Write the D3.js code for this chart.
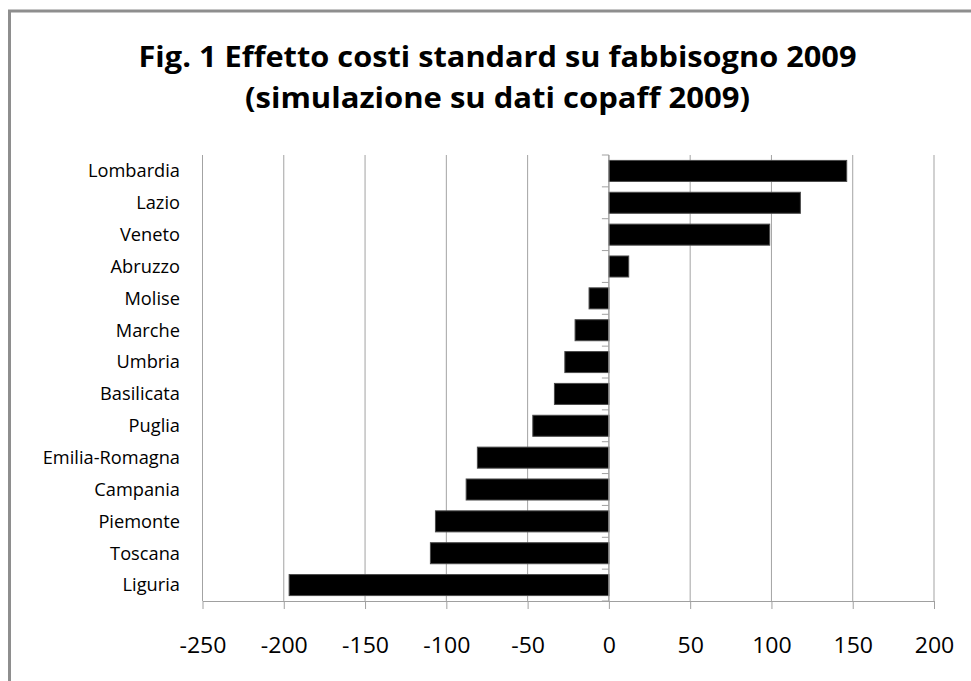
<!DOCTYPE html>
<html>
<head>
<meta charset="utf-8">
<script src="https://cdn.jsdelivr.net/npm/d3@7"></script>
<style>
  html, body { margin: 0; padding: 0; background: #fff; }
  svg { display: block; }
</style>
</head>
<body>
<script>
// ---- data ----
const categories = ["Lombardia","Lazio","Veneto","Abruzzo","Molise","Marche","Umbria","Basilicata","Puglia","Emilia-Romagna","Campania","Piemonte","Toscana","Liguria"];
const values = [146.3, 117.8, 98.9, 12.2, -12.2, -20.8, -27.1, -33.5, -46.8, -80.9, -87.8, -106.7, -109.8, -196.7];
const xTicks = [-250, -200, -150, -100, -50, 0, 50, 100, 150, 200];
const titleLines = ["Fig. 1 Effetto costi standard su fabbisogno 2009", "(simulazione su dati copaff 2009)"];

const W = 971, H = 681;
const FONT = "'Open Sans', 'Noto Sans', sans-serif";

const svg = d3.select("body").append("svg").attr("width", W).attr("height", H);
svg.append("rect").attr("width", W).attr("height", H).attr("fill", "#fff");

// outer frame (only top/left edges fall inside the picture)
svg.append("rect")
  .attr("x", 9.5).attr("y", 11).attr("width", 1100).attr("height", 900)
  .attr("fill", "none").attr("stroke", "#8e8e8e").attr("stroke-width", 3);

const x = d3.scaleLinear().domain([-250, 200]).range([202.5, 934]);
const y = d3.scaleBand().domain(categories).range([155, 601]).paddingInner(0.34).paddingOuter(0.17);

// scale all texts of a selection horizontally so that a reference text has a target width
function condense(sel, refNode, target) {
  const f = target / refNode.getComputedTextLength();
  const widths = sel.nodes().map(n => n.getComputedTextLength());
  sel.each(function (d, i) {
    d3.select(this).attr("textLength", widths[i] * f).attr("lengthAdjust", "spacingAndGlyphs");
  });
}

// title
const tl = svg.selectAll("text.title").data(titleLines).join("text")
  .attr("class", "title")
  .attr("x", 497.5)
  .attr("y", (d, i) => i === 0 ? 67 : 108)
  .attr("text-anchor", "middle")
  .style("font-family", FONT).style("font-weight", "bold").style("font-size", "28px")
  .attr("fill", "#000")
  .text(d => d);
condense(d3.select(tl.nodes()[0]), tl.nodes()[0], 718);
condense(d3.select(tl.nodes()[1]), tl.nodes()[1], 505);

// gridlines
svg.append("g").selectAll("line").data(xTicks).join("line")
  .attr("x1", d => x(d)).attr("x2", d => x(d))
  .attr("y1", 155).attr("y2", 601)
  .attr("stroke", "#a3a3a3").attr("stroke-width", 1);

// x axis
const xAxis = svg.append("g").attr("transform", "translate(0,601)")
  .call(d3.axisBottom(x).tickValues(xTicks).tickSize(8).tickSizeOuter(0).tickFormat(d => String(d)));
xAxis.select(".domain").attr("stroke", "#a0a0a0");
xAxis.selectAll(".tick line").attr("stroke", "#a0a0a0");
const xt = xAxis.selectAll(".tick text")
  .attr("y", 51.5).attr("dy", 0)
  .style("font-family", FONT).style("font-size", "22px").attr("fill", "#000");
condense(xt, xt.filter(d => d === -250).node(), 47);

// bars
svg.append("g").selectAll("rect").data(values).join("rect")
  .attr("x", d => x(Math.min(0, d)))
  .attr("width", d => Math.abs(x(d) - x(0)))
  .attr("y", (d, i) => y(categories[i]))
  .attr("height", y.bandwidth())
  .attr("fill", "#000").attr("stroke", "#4a4a4a").attr("stroke-width", 1);

// category axis at zero
const yAxisG = svg.append("g");
yAxisG.append("line")
  .attr("x1", x(0)).attr("x2", x(0)).attr("y1", 155).attr("y2", 601)
  .attr("stroke", "#a0a0a0");
const bounds = d3.range(categories.length + 1).map(i => y.range()[0] + i * y.step());
yAxisG.selectAll("line.tk").data(bounds).join("line").attr("class", "tk")
  .attr("x1", x(0) - 7).attr("x2", x(0))
  .attr("y1", d => d).attr("y2", d => d)
  .attr("stroke", "#a0a0a0");

// category labels
const cl = svg.append("g").selectAll("text").data(categories).join("text")
  .attr("x", 180)
  .attr("y", d => y(d) + y.bandwidth() / 2 + 6.4)
  .attr("text-anchor", "end")
  .style("font-family", FONT).style("font-size", "17.8px").attr("fill", "#000")
  .text(d => d);
condense(cl, cl.filter(d => d === "Lombardia").node(), 92);
</script>
</body>
</html>
